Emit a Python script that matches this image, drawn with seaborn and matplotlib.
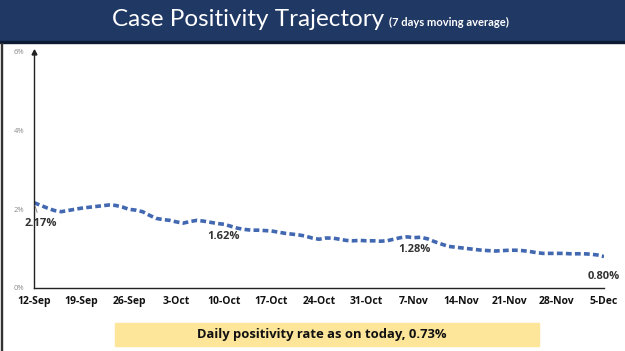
import numpy as np
import pandas as pd
import seaborn as sns
import matplotlib.pyplot as plt
from matplotlib.patches import Rectangle
from datetime import date, timedelta

# 7-day moving average of case positivity (%), daily from 12-Sep to 5-Dec
positivity = [
    2.17, 2.10, 2.03, 1.97, 1.94, 1.97, 2.00,
    2.03, 2.05, 2.07, 2.09, 2.11, 2.10, 2.06,
    2.00, 1.98, 1.94, 1.85, 1.77, 1.74, 1.72,
    1.68, 1.65, 1.69, 1.72, 1.70, 1.67, 1.64,
    1.62, 1.57, 1.52, 1.49, 1.47, 1.47, 1.46,
    1.45, 1.42, 1.39, 1.37, 1.35, 1.32, 1.27,
    1.24, 1.27, 1.27, 1.24, 1.21, 1.20, 1.21,
    1.20, 1.20, 1.19, 1.20, 1.24, 1.28, 1.30,
    1.28, 1.29, 1.25, 1.18, 1.12, 1.06, 1.04,
    1.02, 1.00, 0.98, 0.96, 0.95, 0.94, 0.95,
    0.96, 0.96, 0.95, 0.93, 0.90, 0.88, 0.88,
    0.88, 0.88, 0.87, 0.87, 0.87, 0.86, 0.84,
    0.80,
]
start = date(2020, 9, 12)
days = list(range(len(positivity)))
tick_days = list(range(0, 85, 7))
tick_labels = [(start + timedelta(d)).strftime("%-d-%b") for d in tick_days]
y_ticks = [0, 2, 4, 6]
callouts = {0: "2.17%", 28: "1.62%", 56: "1.28%", 84: "0.80%"}

df = pd.DataFrame({"day": days, "rate": positivity})

sns.set_style("white")
plt.rcParams["font.family"] = ["Open Sans", "DejaVu Sans"]

fig = plt.figure(figsize=(6.25, 3.51), dpi=100)

# title banner
fig.patches.append(Rectangle((0, 1 - 41 / 351), 1, 41 / 351, transform=fig.transFigure,
                             color="#203864", zorder=0))
fig.patches.append(Rectangle((0, 1 - 43 / 351), 1, 2 / 351, transform=fig.transFigure,
                             color="#0d1a33", zorder=0))
fig.patches.append(Rectangle((0.002, 0), 0.0018, 1 - 43 / 351, transform=fig.transFigure,
                             color="#333333", zorder=0))
fig.text(384 / 625, 1 - 20 / 351, "Case Positivity Trajectory", color="white", fontsize=17.5,
         family=["Lato", "DejaVu Sans"], ha="right", va="center")
fig.text(389 / 625, 1 - 22 / 351, "(7 days moving average)", color="white", fontsize=8,
         family=["Lato", "DejaVu Sans"], ha="left", va="center", fontweight="bold")

ax = fig.add_axes([34 / 625, 1 - 288 / 351, 570 / 625, 236 / 351])
sns.lineplot(data=df, x="day", y="rate", ax=ax, color="#4168b0", linewidth=2.6,
             dashes=False)
ax.lines[0].set_dashes((1.6, 0.9))

ax.set_xlim(0, 84)
ax.set_ylim(0, 6)
ax.set_xticks(tick_days)
ax.set_xticklabels(tick_labels, fontweight="bold", fontsize=7.5, color="#111111",
                   family=["Open Sans", "DejaVu Sans"])
ax.set_yticks(y_ticks)
ax.set_yticklabels([f"{v}%" for v in y_ticks], fontsize=5.5, color="#8a8a8a")
ax.tick_params(axis="x", direction="inout", length=4, width=0.8, pad=4)
ax.tick_params(axis="y", length=0, pad=7)
ax.set_xlabel("")
ax.set_ylabel("")
for s in ["top", "right"]:
    ax.spines[s].set_visible(False)
for s in ["left", "bottom"]:
    ax.spines[s].set_color("#222222")
    ax.spines[s].set_linewidth(1.0)
ax.plot([0], [6], marker="^", color="#222222", markersize=3.5, clip_on=False)

# callout labels
ax.annotate(callouts[0], xy=(0, positivity[0]), xytext=(1.0, 1.63), fontsize=8,
            fontweight="bold", color="#333333", ha="center", va="center",
            arrowprops=dict(arrowstyle="-", color="#777777", lw=0.6))
for d in [28, 56]:
    ax.text(d, positivity[d] - 0.3, callouts[d], fontsize=8, fontweight="bold",
            color="#333333", ha="center", va="center")
ax.text(84, positivity[84] - 0.5, callouts[84], fontsize=8, fontweight="bold",
        color="#333333", ha="center", va="center")

# daily rate box
fig.patches.append(Rectangle((115 / 625, 1 - 346 / 351), 424 / 625, 23 / 351,
                             transform=fig.transFigure, color="#fde59a", zorder=0))
fig.text(322 / 625, 1 - 334.5 / 351, "Daily positivity rate as on today, 0.73%",
         fontsize=9.4, fontweight="bold", color="#111111", ha="center", va="center")

fig.savefig("out.png", dpi=100)
